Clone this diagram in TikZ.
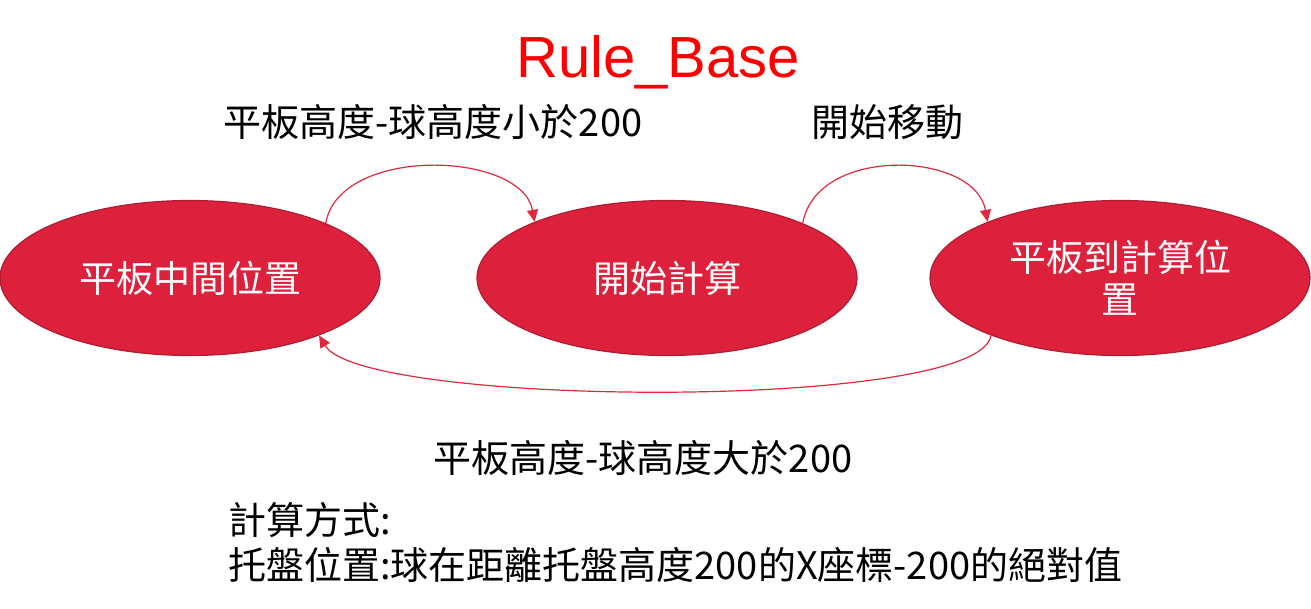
\documentclass[tikz,border=0pt]{standalone}
\usepackage{fontspec}
\setmainfont{Noto Sans CJK TC}
\newfontfamily\titlefont{Liberation Sans}
\usetikzlibrary{arrows.meta,shapes.geometric}
\definecolor{ovalred}{RGB}{221,32,59}
\definecolor{ovaledge}{RGB}{176,28,50}
\definecolor{arrred}{RGB}{226,40,62}
\definecolor{titlered}{RGB}{255,0,0}
\begin{document}
\begin{tikzpicture}[x=1pt,y=-1pt,
state/.style={shape=ellipse,draw=ovaledge,line width=1.2pt,fill=ovalred,minimum width=380pt,minimum height=155pt,inner sep=0pt,text=white,align=center,font=\fontsize{37}{42}\selectfont},
rule/.style={draw=arrred,line width=1.2pt,-{Triangle[length=12pt,width=11pt]}},
cond/.style={font=\fontsize{38}{43}\selectfont}]
\useasboundingbox (0,0) rectangle (1311,609);
\node (title) at (658,78) [anchor=base,text=titlered,font=\titlefont\fontsize{58}{64}\selectfont] {Rule\_Base};
\node (s1) at (190,278) [state] {平板中間位置};
\node (s2) at (667,278) [state] {開始計算};
\node (s3) at (1120,278) [state] {平板到計算位\\置};
\draw[rule] (s1.22) .. controls +(14,-78) and +(-13,-71) .. (s2.157);
\draw[rule] (s2.22) .. controls +(14,-78) and +(-13,-71) .. (s3.157);
\draw[rule] (s3.204) .. controls +(-11,76) and +(43,72) .. (s1.336);
\node (c12) at (433,122) [cond] {平板高度-球高度小於200};
\node (c23) at (887,122) [cond] {開始移動};
\node (c31) at (643,458) [cond] {平板高度-球高度大於200};
\node (calc) at (228,520) [cond,anchor=west,inner sep=0pt] {計算方式:};
\node (tray) at (228,565) [cond,anchor=west,inner sep=0pt] {托盤位置:球在距離托盤高度200的X座標-200的絕對值};
\end{tikzpicture}
\end{document}
